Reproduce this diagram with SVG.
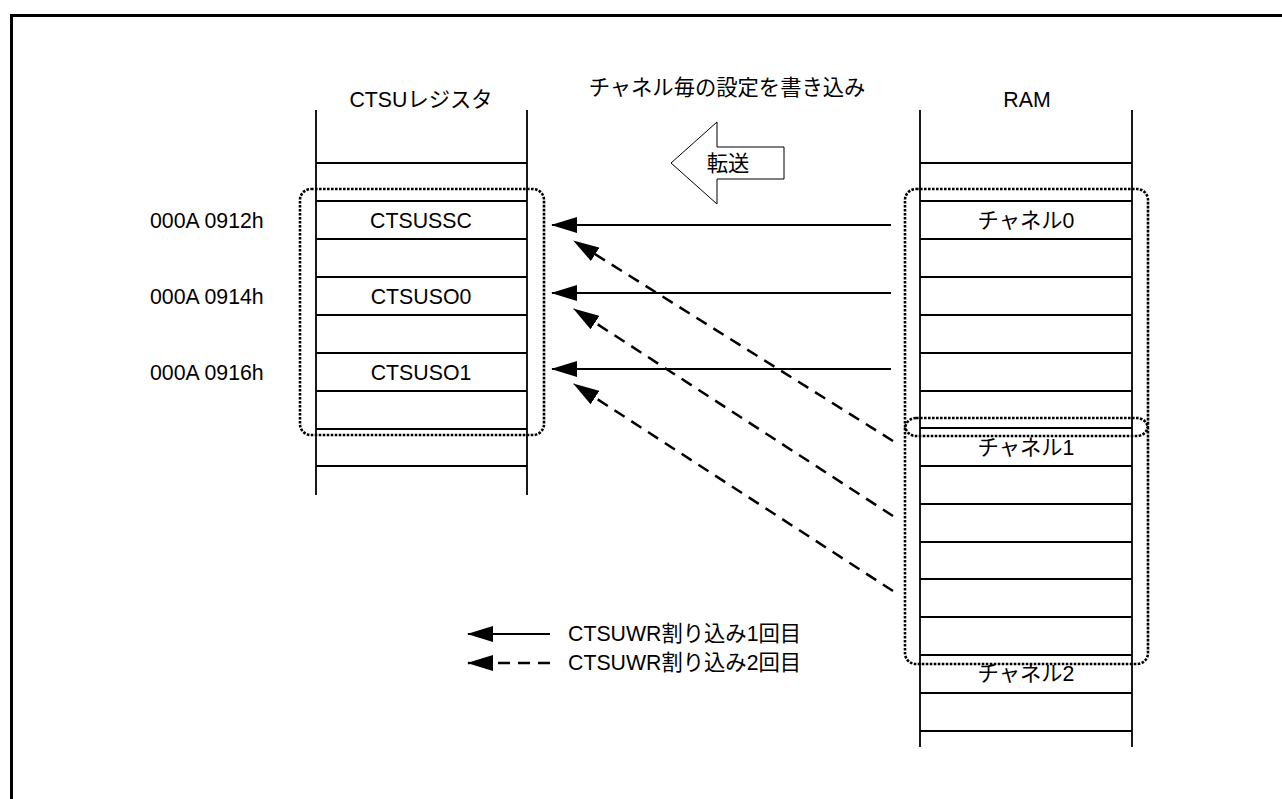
<svg xmlns="http://www.w3.org/2000/svg" width="1282" height="799" viewBox="0 0 1282 799">
<style>
text{font-family:"Liberation Sans","Noto Sans CJK JP",sans-serif;font-size:21.3px;fill:#000}
.c{text-anchor:middle}
.ln{stroke:#000;stroke-width:1.8;fill:none}
.dot{stroke:#000;stroke-width:2.6;stroke-dasharray:2.6 1.4;fill:none}
.sol{stroke:#000;stroke-width:2;fill:none}
.dsh{stroke:#000;stroke-width:2.5;stroke-dasharray:12 8;fill:none}
</style>
<defs>
<marker id="ah" viewBox="0 0 26 16" refX="25" refY="8" markerWidth="26" markerHeight="16" markerUnits="userSpaceOnUse" orient="auto">
<path d="M26,8 L0,0 L0,16 Z" fill="#000"/>
</marker>
</defs>
<rect x="11.5" y="15.5" width="1300" height="800" fill="none" stroke="#000" stroke-width="3"/>
<g id="reg">
<text class="c" x="421" y="107">CTSUレジスタ</text>
<path class="ln" d="M316,110V495M527,110V495M316,163H527M316,201H527M316,239H527M316,277H527M316,315H527M316,353H527M316,391H527M316,429H527M316,466H527"/>
<text class="c" x="421" y="228">CTSUSSC</text>
<text class="c" x="421" y="304">CTSUSO0</text>
<text class="c" x="421" y="380">CTSUSO1</text>
<rect class="dot" x="300" y="189" width="244" height="246" rx="11"/>
</g>
<g id="addr">
<text x="150" y="228">000A 0912h</text>
<text x="150" y="304">000A 0914h</text>
<text x="150" y="380">000A 0916h</text>
</g>
<g id="ram">
<text class="c" x="1027" y="107">RAM</text>
<path class="ln" d="M920,110V747M1132,110V747M920,163H1132M920,201H1132M920,239H1132M920,277H1132M920,315H1132M920,353H1132M920,391H1132M920,428H1132M920,466H1132M920,504H1132M920,542H1132M920,579H1132M920,617H1132M920,655H1132M920,693H1132M920,731H1132"/>
<text class="c" x="1026" y="228">チャネル0</text>
<text class="c" x="1026" y="455">チャネル1</text>
<text class="c" x="1026" y="681">チャネル2</text>
<rect class="dot" x="905" y="189" width="243" height="247" rx="11"/>
<rect class="dot" x="905" y="418" width="243" height="246" rx="11"/>
</g>
<g id="title">
<text class="c" x="727" y="95">チャネル毎の設定を書き込み</text>
</g>
<g id="transfer">
<path d="M671,163 L717,122 L717,147 L784,147 L784,179 L717,179 L717,204 Z" fill="#fff" stroke="#000" stroke-width="1"/>
<text class="c" x="728" y="171">転送</text>
</g>
<g id="connectors">
<path class="sol" d="M891,225H552" marker-end="url(#ah)"/>
<path class="sol" d="M891,293H552" marker-end="url(#ah)"/>
<path class="sol" d="M891,369H552" marker-end="url(#ah)"/>
<path class="dsh" d="M893,441L574,241" marker-end="url(#ah)"/>
<path class="dsh" d="M893,516L574,309" marker-end="url(#ah)"/>
<path class="dsh" d="M893,591L574,384" marker-end="url(#ah)"/>
</g>
<g id="legend">
<path class="sol" d="M550,634H468" marker-end="url(#ah)"/>
<path class="dsh" d="M550,663H468" stroke-dasharray="15 8" marker-end="url(#ah)"/>
<text x="568" y="641">CTSUWR割り込み1回目</text>
<text x="568" y="670">CTSUWR割り込み2回目</text>
</g>
</svg>
